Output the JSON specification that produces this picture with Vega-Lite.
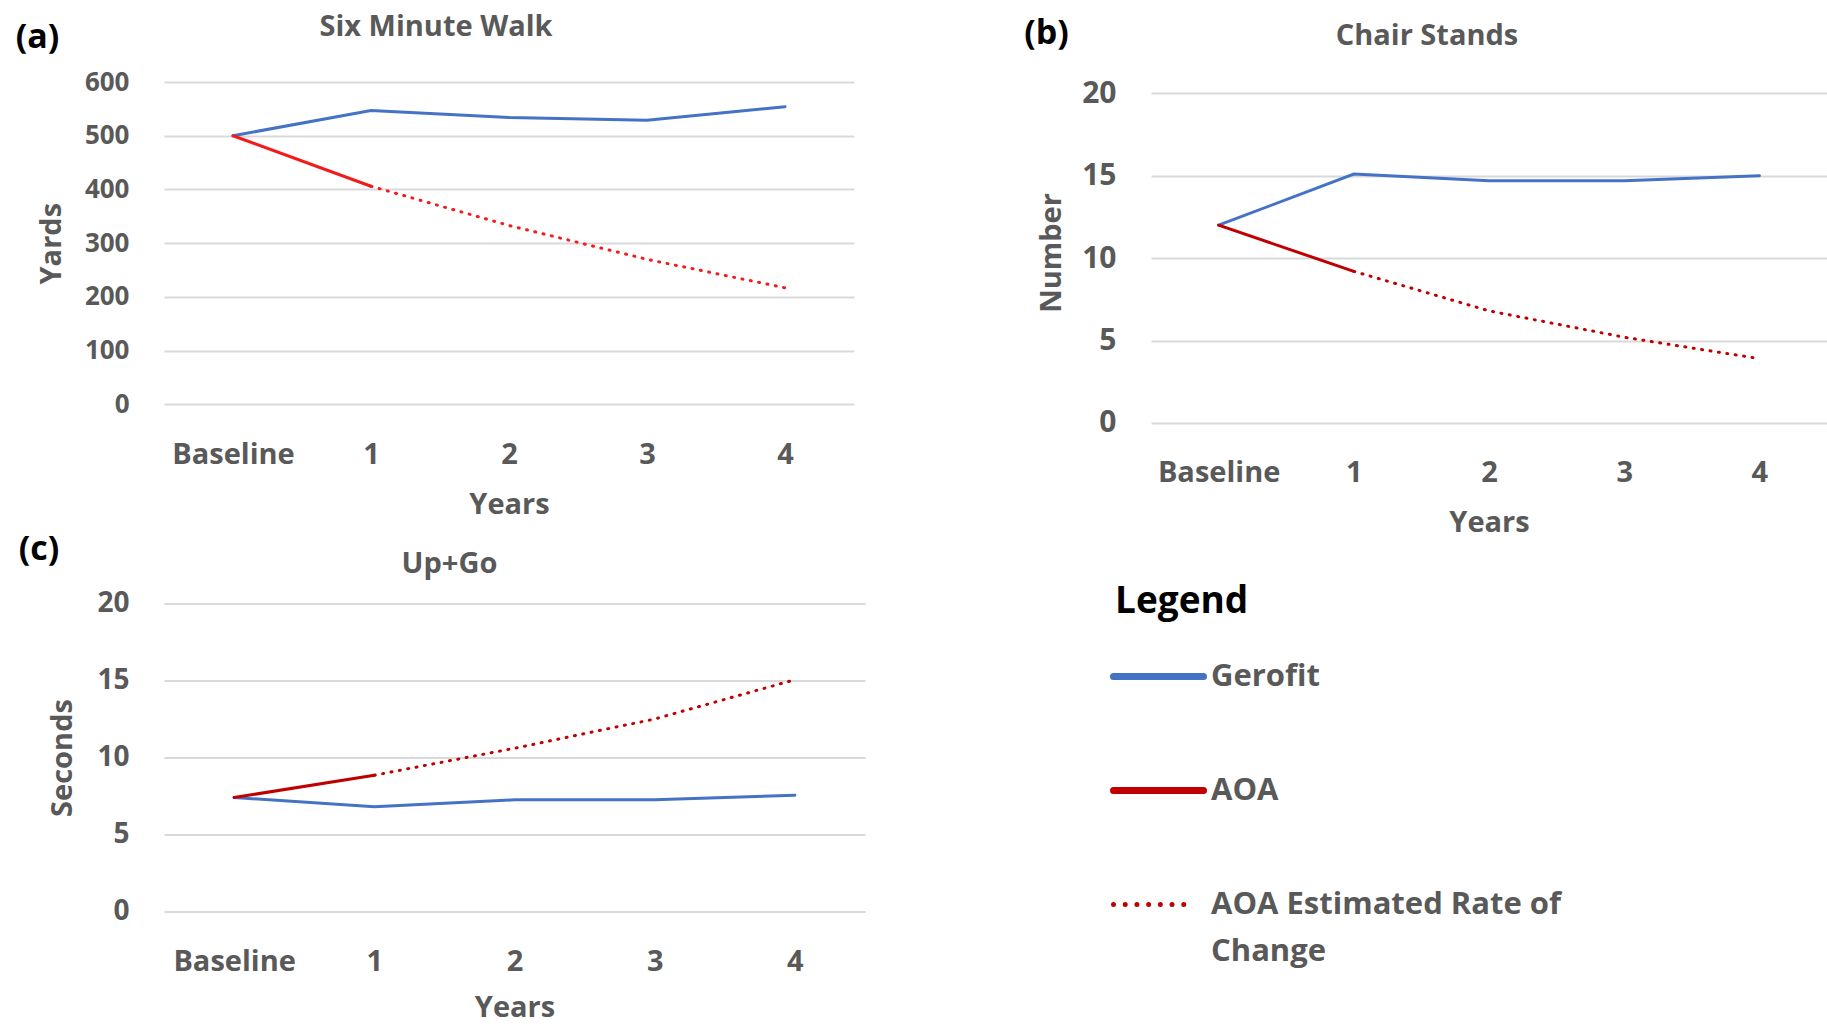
{
  "$schema": "https://vega.github.io/schema/vega-lite/v6.json",
  "background": "white",
  "padding": {"left": 15, "top": 12, "right": 0, "bottom": 0},
  "config": {
    "font": "Open Sans",
    "view": {"stroke": null},
    "axis": {"domain": false, "ticks": false, "tickSize": 0, "labelColor": "#595959", "titleColor": "#595959", "labelFont": "Open Sans", "titleFont": "Open Sans", "labelFontWeight": "bold", "titleFontWeight": "bold", "labelFontSize": 29, "titleFontSize": 29, "gridColor": "#d9d9d9", "gridWidth": 2},
    "axisX": {"labelAngle": 0, "labelPadding": 36, "titlePadding": 21, "grid": false},
    "axisY": {"labelPadding": 35, "titlePadding": 18},
    "title": {"color": "#595959", "font": "Open Sans", "fontWeight": "bold", "fontSize": 29, "anchor": "middle", "frame": "group", "baseline": "middle"},
    "legend": {"orient": "none", "legendX": 951, "legendY": 502, "titleColor": "black", "titleFontSize": 37, "titleFont": "Open Sans", "titleFontWeight": "bold", "titlePadding": 40, "symbolType": "stroke", "symbolSize": 8100, "symbolStrokeWidth": 7, "symbolOffset": 28, "labelFontSize": 31, "labelColor": "#595959", "labelFont": "Open Sans", "labelFontWeight": "bold", "labelOffset": 37, "labelLimit": 700, "rowPadding": 82}
  },
  "datasets": {
    "a": [
      {"year": "Baseline", "value": 500, "series": "Gerofit"},
      {"year": "1", "value": 547, "series": "Gerofit"},
      {"year": "2", "value": 534, "series": "Gerofit"},
      {"year": "3", "value": 529, "series": "Gerofit"},
      {"year": "4", "value": 554, "series": "Gerofit"},
      {"year": "Baseline", "value": 500, "series": "AOA"},
      {"year": "1", "value": 406, "series": "AOA"},
      {"year": "1", "value": 406, "series": "AOA Estimated Rate of Change"},
      {"year": "2", "value": 333, "series": "AOA Estimated Rate of Change"},
      {"year": "3", "value": 270, "series": "AOA Estimated Rate of Change"},
      {"year": "4", "value": 217, "series": "AOA Estimated Rate of Change"}
    ],
    "b": [
      {"year": "Baseline", "value": 12, "series": "Gerofit"},
      {"year": "1", "value": 15.1, "series": "Gerofit"},
      {"year": "2", "value": 14.7, "series": "Gerofit"},
      {"year": "3", "value": 14.7, "series": "Gerofit"},
      {"year": "4", "value": 15.0, "series": "Gerofit"},
      {"year": "Baseline", "value": 12, "series": "AOA"},
      {"year": "1", "value": 9.2, "series": "AOA"},
      {"year": "1", "value": 9.2, "series": "AOA Estimated Rate of Change"},
      {"year": "2", "value": 6.8, "series": "AOA Estimated Rate of Change"},
      {"year": "3", "value": 5.2, "series": "AOA Estimated Rate of Change"},
      {"year": "4", "value": 3.9, "series": "AOA Estimated Rate of Change"}
    ],
    "c": [
      {"year": "Baseline", "value": 7.4, "series": "Gerofit"},
      {"year": "1", "value": 6.8, "series": "Gerofit"},
      {"year": "2", "value": 7.25, "series": "Gerofit"},
      {"year": "3", "value": 7.25, "series": "Gerofit"},
      {"year": "4", "value": 7.55, "series": "Gerofit"},
      {"year": "Baseline", "value": 7.4, "series": "AOA"},
      {"year": "1", "value": 8.85, "series": "AOA"},
      {"year": "1", "value": 8.85, "series": "AOA Estimated Rate of Change"},
      {"year": "2", "value": 10.6, "series": "AOA Estimated Rate of Change"},
      {"year": "3", "value": 12.5, "series": "AOA Estimated Rate of Change"},
      {"year": "4", "value": 15.05, "series": "AOA Estimated Rate of Change"}
    ]
  },
  "columns": 2,
  "bounds": "flush",
  "spacing": {"row": 180.5, "column": 286},
  "concat": [
    {
      "width": 690, "height": 322.4,
      "title": {"text": "Six Minute Walk", "offset": -21.4, "dx": -73},
      "data": {"name": "a"},
      "encoding": {"x": {"field": "year", "type": "ordinal", "sort": ["Baseline", "1", "2", "3", "4"], "axis": {"title": "Years"}}},
      "layer": [
        {
          "transform": [{"filter": "datum.series !== 'AOA Estimated Rate of Change'"}],
          "mark": {"type": "line", "strokeWidth": 3, "strokeCap": "round"},
          "encoding": {
            "y": {"field": "value", "type": "quantitative", "scale": {"domain": [0, 600]}, "axis": {"title": "Yards", "values": [0, 100, 200, 300, 400, 500, 600], "labelFontSize": 26, "grid": true, "titlePadding": 18}},
            "detail": {"field": "series"},
            "color": {"condition": {"test": "datum.series === 'Gerofit'", "value": "#4472C4"}, "value": "#F21B1B"}
          }
        },
        {
          "transform": [{"filter": "datum.series === 'AOA Estimated Rate of Change'"}],
          "mark": {"type": "line", "strokeWidth": 3, "strokeCap": "round", "strokeDash": [1, 7.5], "color": "#F21B1B"},
          "encoding": {
            "y": {"field": "value", "type": "quantitative", "axis": {"orient": "left", "title": "(a)", "titleAngle": 0, "titleAlign": "center", "titleBaseline": "middle", "titleX": -127, "titleY": -44.6, "titleColor": "black", "titleFontSize": 34, "labels": false, "grid": false}}
          }
        }
      ],
      "resolve": {"axis": {"y": "independent"}}
    },
    {
      "width": 676, "height": 340.9,
      "title": {"text": "Chair Stands", "offset": -34.2, "dx": -62},
      "data": {"name": "b"},
      "encoding": {"x": {"field": "year", "type": "ordinal", "sort": ["Baseline", "1", "2", "3", "4"], "axis": {"title": "Years"}}},
      "layer": [
        {
          "transform": [{"filter": "datum.series !== 'AOA Estimated Rate of Change'"}],
          "mark": {"type": "line", "strokeWidth": 3, "strokeCap": "round"},
          "encoding": {
            "y": {"field": "value", "type": "quantitative", "scale": {"domain": [0, 20.69], "nice": false}, "axis": {"title": "Number", "values": [0, 5, 10, 15, 20], "labelFontSize": 30, "grid": true, "titlePadding": 15}},
            "color": {"field": "series", "type": "nominal", "scale": {"domain": ["Gerofit", "AOA", "AOA Estimated Rate of Change"], "range": ["#4472C4", "#C00000", "#C00000"]},
              "legend": {"title": "Legend", "labelExpr": "datum.label === 'AOA Estimated Rate of Change' ? ['AOA Estimated Rate of', 'Change'] : datum.label",
                "encode": {"symbols": {"update": {"strokeDash": {"signal": "datum.value === 'AOA Estimated Rate of Change' ? [0.01, 11.7, 0.01, 11.7, 0.01, 11.7, 0.01, 11.7, 0.01, 11.7, 0.01, 11.7, 0.01, 40] : [1, 0]"}, "strokeCap": {"value": "round"}, "strokeWidth": {"signal": "datum.value === 'AOA Estimated Rate of Change' ? 5 : 7"}}},
                  "labels": {"update": {"lineHeight": {"value": 47}}}}}}
          }
        },
        {
          "transform": [{"filter": "datum.series === 'AOA Estimated Rate of Change'"}],
          "mark": {"type": "line", "strokeWidth": 3, "strokeCap": "round", "strokeDash": [1, 7.5]},
          "encoding": {
            "y": {"field": "value", "type": "quantitative", "axis": {"orient": "left", "title": "(b)", "titleAngle": 0, "titleAlign": "center", "titleBaseline": "middle", "titleX": -105, "titleY": -48.6, "titleColor": "black", "titleFontSize": 34, "labels": false, "grid": false}},
            "color": {"field": "series", "type": "nominal", "scale": {"domain": ["Gerofit", "AOA", "AOA Estimated Rate of Change"], "range": ["#4472C4", "#C00000", "#C00000"]},
              "legend": {"title": "Legend", "labelExpr": "datum.label === 'AOA Estimated Rate of Change' ? ['AOA Estimated Rate of', 'Change'] : datum.label",
                "encode": {"symbols": {"update": {"strokeDash": {"signal": "datum.value === 'AOA Estimated Rate of Change' ? [0.01, 11.7, 0.01, 11.7, 0.01, 11.7, 0.01, 11.7, 0.01, 11.7, 0.01, 11.7, 0.01, 40] : [1, 0]"}, "strokeCap": {"value": "round"}, "strokeWidth": {"signal": "datum.value === 'AOA Estimated Rate of Change' ? 5 : 7"}}},
                  "labels": {"update": {"lineHeight": {"value": 47}}}}}}
          }
        }
      ],
      "resolve": {"axis": {"y": "independent"}}
    },
    {
      "width": 701, "height": 308,
      "title": {"text": "Up+Go", "offset": -46.5, "dx": -65},
      "data": {"name": "c"},
      "encoding": {"x": {"field": "year", "type": "ordinal", "sort": ["Baseline", "1", "2", "3", "4"], "axis": {"title": "Years", "titlePadding": 17}}},
      "layer": [
        {
          "transform": [{"filter": "datum.series !== 'AOA Estimated Rate of Change'"}],
          "mark": {"type": "line", "strokeWidth": 3, "strokeCap": "round"},
          "encoding": {
            "y": {"field": "value", "type": "quantitative", "scale": {"domain": [0, 20]}, "axis": {"title": "Seconds", "values": [0, 5, 10, 15, 20], "labelFontSize": 28, "grid": true, "titlePadding": 19}},
            "color": {"field": "series", "type": "nominal", "scale": {"domain": ["Gerofit", "AOA", "AOA Estimated Rate of Change"], "range": ["#4472C4", "#C00000", "#C00000"]},
              "legend": {"title": "Legend", "labelExpr": "datum.label === 'AOA Estimated Rate of Change' ? ['AOA Estimated Rate of', 'Change'] : datum.label",
                "encode": {"symbols": {"update": {"strokeDash": {"signal": "datum.value === 'AOA Estimated Rate of Change' ? [0.01, 11.7, 0.01, 11.7, 0.01, 11.7, 0.01, 11.7, 0.01, 11.7, 0.01, 11.7, 0.01, 40] : [1, 0]"}, "strokeCap": {"value": "round"}, "strokeWidth": {"signal": "datum.value === 'AOA Estimated Rate of Change' ? 5 : 7"}}},
                  "labels": {"update": {"lineHeight": {"value": 47}}}}}}
          }
        },
        {
          "transform": [{"filter": "datum.series === 'AOA Estimated Rate of Change'"}],
          "mark": {"type": "line", "strokeWidth": 3, "strokeCap": "round", "strokeDash": [1, 7.5]},
          "encoding": {
            "y": {"field": "value", "type": "quantitative", "axis": {"orient": "left", "title": "(c)", "titleAngle": 0, "titleAlign": "center", "titleBaseline": "middle", "titleX": -125.5, "titleY": -54, "titleColor": "black", "titleFontSize": 34, "labels": false, "grid": false}},
            "color": {"field": "series", "type": "nominal", "scale": {"domain": ["Gerofit", "AOA", "AOA Estimated Rate of Change"], "range": ["#4472C4", "#C00000", "#C00000"]},
              "legend": {"title": "Legend", "labelExpr": "datum.label === 'AOA Estimated Rate of Change' ? ['AOA Estimated Rate of', 'Change'] : datum.label",
                "encode": {"symbols": {"update": {"strokeDash": {"signal": "datum.value === 'AOA Estimated Rate of Change' ? [0.01, 11.7, 0.01, 11.7, 0.01, 11.7, 0.01, 11.7, 0.01, 11.7, 0.01, 11.7, 0.01, 40] : [1, 0]"}, "strokeCap": {"value": "round"}, "strokeWidth": {"signal": "datum.value === 'AOA Estimated Rate of Change' ? 5 : 7"}}},
                  "labels": {"update": {"lineHeight": {"value": 47}}}}}}
          }
        }
      ],
      "resolve": {"axis": {"y": "independent"}}
    }
  ]
}
